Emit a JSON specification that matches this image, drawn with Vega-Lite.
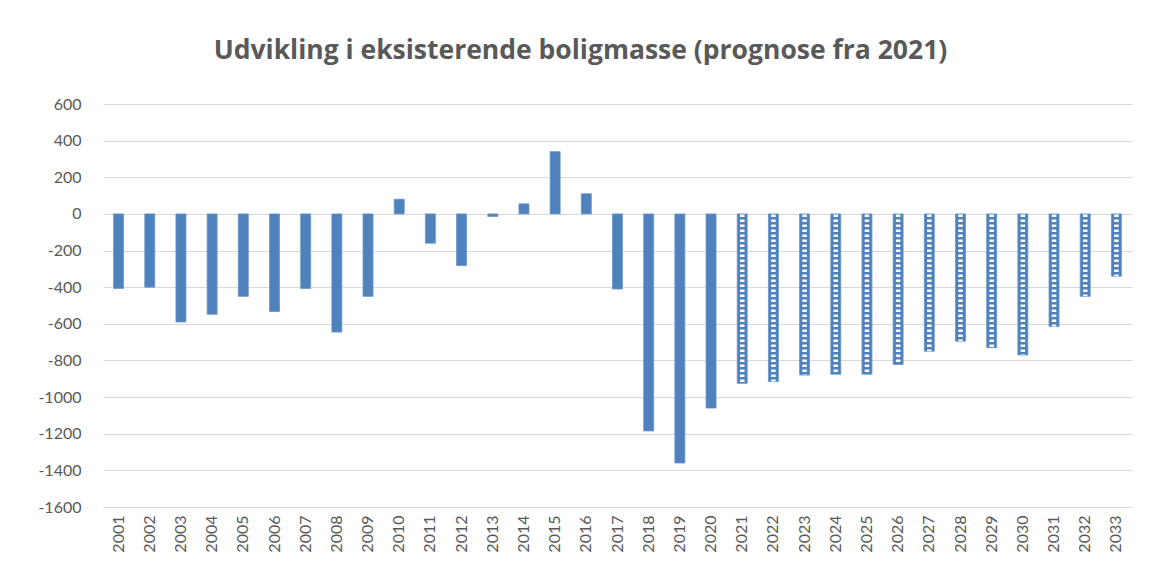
{
  "$schema": "https://vega.github.io/schema/vega-lite/v6.json",
  "width": 1029,
  "height": 403,
  "autosize": {"type": "none"},
  "padding": {"left": 103, "top": 104, "right": 19, "bottom": 74},
  "background": "white",
  "config": {
    "font": "Lato",
    "view": {"stroke": null}
  },
  "title": {
    "text": "Udvikling i eksisterende boligmasse (prognose fra 2021)",
    "fontSize": 26.5,
    "fontWeight": "bold",
    "color": "#595959",
    "anchor": "middle",
    "dx": -37,
    "offset": 32,
    "font": "Open Sans"
  },
  "data": {
    "values": [
      {"year": "2001", "value": -407, "type": "faktisk"},
      {"year": "2002", "value": -400, "type": "faktisk"},
      {"year": "2003", "value": -590, "type": "faktisk"},
      {"year": "2004", "value": -548, "type": "faktisk"},
      {"year": "2005", "value": -450, "type": "faktisk"},
      {"year": "2006", "value": -533, "type": "faktisk"},
      {"year": "2007", "value": -407, "type": "faktisk"},
      {"year": "2008", "value": -645, "type": "faktisk"},
      {"year": "2009", "value": -450, "type": "faktisk"},
      {"year": "2010", "value": 80, "type": "faktisk"},
      {"year": "2011", "value": -160, "type": "faktisk"},
      {"year": "2012", "value": -282, "type": "faktisk"},
      {"year": "2013", "value": -14, "type": "faktisk"},
      {"year": "2014", "value": 55, "type": "faktisk"},
      {"year": "2015", "value": 340, "type": "faktisk"},
      {"year": "2016", "value": 110, "type": "faktisk"},
      {"year": "2017", "value": -410, "type": "faktisk"},
      {"year": "2018", "value": -1185, "type": "faktisk"},
      {"year": "2019", "value": -1360, "type": "faktisk"},
      {"year": "2020", "value": -1060, "type": "faktisk"},
      {"year": "2021", "value": -925, "type": "prognose"},
      {"year": "2022", "value": -915, "type": "prognose"},
      {"year": "2023", "value": -880, "type": "prognose"},
      {"year": "2024", "value": -875, "type": "prognose"},
      {"year": "2025", "value": -875, "type": "prognose"},
      {"year": "2026", "value": -822, "type": "prognose"},
      {"year": "2027", "value": -750, "type": "prognose"},
      {"year": "2028", "value": -695, "type": "prognose"},
      {"year": "2029", "value": -730, "type": "prognose"},
      {"year": "2030", "value": -770, "type": "prognose"},
      {"year": "2031", "value": -615, "type": "prognose"},
      {"year": "2032", "value": -450, "type": "prognose"},
      {"year": "2033", "value": -340, "type": "prognose"}
    ]
  },
  "encoding": {
    "x": {
      "field": "year",
      "type": "nominal",
      "sort": null,
      "title": null,
      "scale": {"paddingInner": 0, "paddingOuter": 0},
      "axis": {
        "labelAngle": -90,
        "labelFontSize": 16,
        "labelColor": "#595959",
        "labelPadding": 8,
        "ticks": false,
        "domainColor": "#d9d9d9",
        "domainWidth": 1,
        "grid": false,
        "labelFont": "Lato"
      }
    },
    "y": {
      "field": "value",
      "type": "quantitative",
      "title": null,
      "scale": {"domain": [-1600, 600], "nice": false, "zero": false},
      "axis": {
        "values": [600, 400, 200, 0, -200, -400, -600, -800, -1000, -1200, -1400, -1600],
        "format": "d",
        "labelExpr": "replace(datum.label, '\u2212', '-')",
        "labelFontSize": 16,
        "labelColor": "#595959",
        "labelPadding": 22,
        "ticks": false,
        "domain": false,
        "gridColor": "#d9d9d9",
        "gridWidth": 1,
        "labelFont": "Lato"
      }
    }
  },
  "layer": [
    {
      "mark": {"type": "bar", "size": 10, "color": "#4f81bd", "stroke": "#6a95c9", "strokeWidth": 0.8},
      "encoding": {
        "y2": {"datum": 0}
      }
    },
    {
      "transform": [{"filter": "datum.type === 'prognose'"}],
      "mark": {"type": "rule", "color": "white", "strokeWidth": 4.5, "strokeDash": [2.5, 2.5], "strokeOffset": 2.5},
      "encoding": {
        "y": {"datum": -3},
        "y2": {"field": "value", "offset": 3}
      }
    }
  ]
}
